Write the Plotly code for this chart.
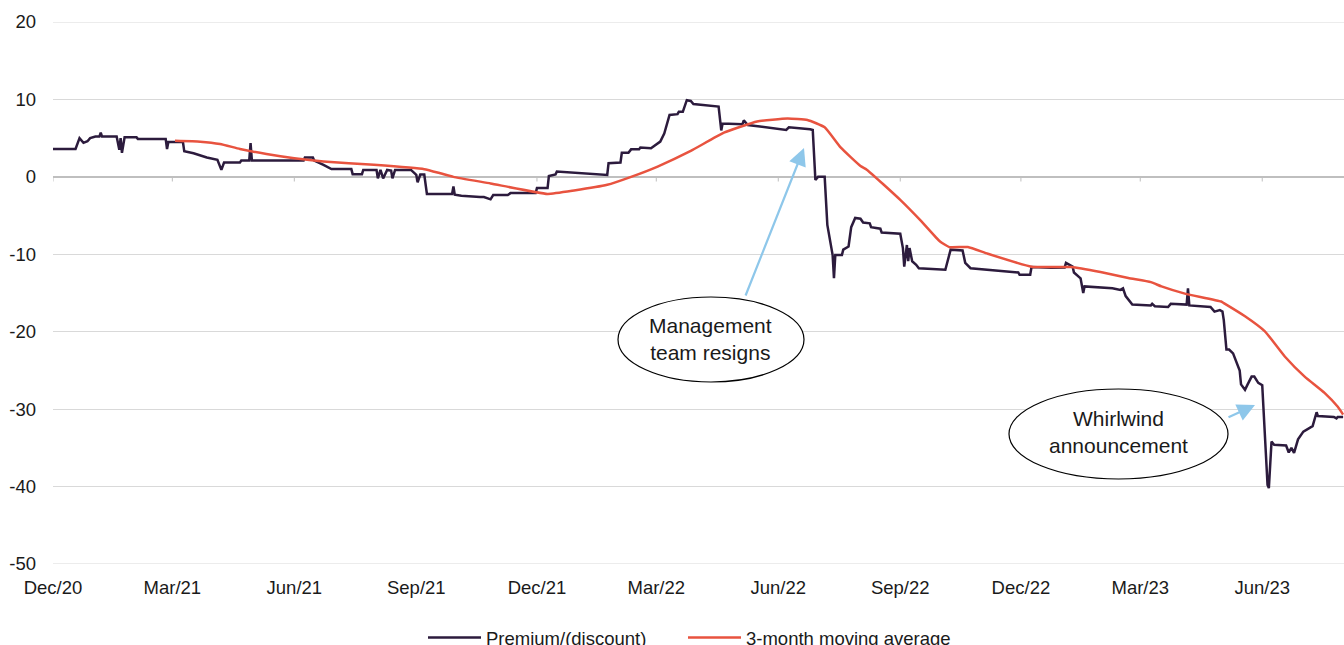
import plotly.graph_objects as go

# ---------------- data ----------------
prem_dates = [
    "2020-12-01", "2020-12-18", "2020-12-21", "2020-12-24", "2020-12-27", "2020-12-29",
    "2021-01-02", "2021-01-05", "2021-01-06", "2021-01-07", "2021-01-18", "2021-01-20",
    "2021-01-21", "2021-01-22", "2021-01-24", "2021-02-02", "2021-02-03", "2021-02-24",
    "2021-02-25", "2021-02-26", "2021-03-09", "2021-03-10", "2021-03-17", "2021-03-27",
    "2021-04-04", "2021-04-07", "2021-04-09", "2021-04-21", "2021-04-22", "2021-04-28",
    "2021-04-29", "2021-04-30", "2021-06-08", "2021-06-09", "2021-06-15", "2021-06-16",
    "2021-06-23", "2021-06-29", "2021-07-14", "2021-07-15", "2021-07-22", "2021-07-23",
    "2021-08-02", "2021-08-03", "2021-08-05", "2021-08-07", "2021-08-10", "2021-08-13",
    "2021-08-14", "2021-08-16", "2021-08-28", "2021-09-01", "2021-09-02", "2021-09-04",
    "2021-09-07", "2021-09-09", "2021-09-28", "2021-09-29", "2021-09-30", "2021-10-05",
    "2021-10-19", "2021-10-22", "2021-10-27", "2021-10-29", "2021-11-09", "2021-11-11",
    "2021-11-30", "2021-12-01", "2021-12-09", "2021-12-10", "2021-12-15", "2021-12-16",
    "2022-01-23", "2022-01-24", "2022-02-02", "2022-02-03", "2022-02-08", "2022-02-10",
    "2022-02-16", "2022-02-17", "2022-02-25", "2022-03-04", "2022-03-07", "2022-03-11",
    "2022-03-17", "2022-03-18", "2022-03-21", "2022-03-24", "2022-03-27", "2022-03-29",
    "2022-04-17", "2022-04-19", "2022-04-20", "2022-05-05", "2022-05-06", "2022-05-09",
    "2022-06-07", "2022-06-09", "2022-06-25", "2022-06-27", "2022-06-29", "2022-07-01",
    "2022-07-06", "2022-07-08", "2022-07-12", "2022-07-13", "2022-07-14", "2022-07-19",
    "2022-07-20", "2022-07-24", "2022-07-26", "2022-07-29", "2022-08-02", "2022-08-04",
    "2022-08-09", "2022-08-10", "2022-08-17", "2022-08-18", "2022-09-01", "2022-09-03",
    "2022-09-04", "2022-09-06", "2022-09-07", "2022-09-08", "2022-09-10", "2022-09-13",
    "2022-09-15", "2022-10-05", "2022-10-09", "2022-10-18", "2022-10-20", "2022-10-24",
    "2022-11-29", "2022-11-30", "2022-12-08", "2022-12-09", "2022-12-24", "2023-01-03",
    "2023-01-04", "2023-01-09", "2023-01-10", "2023-01-15", "2023-01-17", "2023-01-18",
    "2023-02-08", "2023-02-14", "2023-02-16", "2023-02-18", "2023-02-23", "2023-03-09",
    "2023-03-10", "2023-03-12", "2023-03-22", "2023-03-24", "2023-04-05", "2023-04-06",
    "2023-04-07", "2023-04-23", "2023-04-26", "2023-04-30", "2023-05-02", "2023-05-03",
    "2023-05-05", "2023-05-07", "2023-05-10", "2023-05-12", "2023-05-15", "2023-05-16",
    "2023-05-19", "2023-05-21", "2023-05-24", "2023-05-26", "2023-05-29", "2023-06-01",
    "2023-06-05", "2023-06-06", "2023-06-08", "2023-06-10", "2023-06-19", "2023-06-21",
    "2023-06-23", "2023-06-25", "2023-06-28", "2023-07-02", "2023-07-05", "2023-07-09",
    "2023-07-12", "2023-07-13", "2023-07-25", "2023-07-27", "2023-07-28", "2023-08-01",
]
prem_values = [
    3.6, 3.6, 5.0, 4.4, 4.6, 5.0,
    5.2, 5.2, 5.7, 5.2, 5.2, 3.5,
    5.0, 3.1, 5.1, 5.1, 4.9, 4.9,
    3.6, 4.5, 4.5, 3.3, 3.05, 2.5,
    2.2, 0.9, 1.85, 1.85, 2.1, 2.1,
    4.35, 2.1, 2.1, 2.5, 2.5, 2.1,
    1.55, 1.0, 1.0, 0.35, 0.35, 0.9,
    0.9, -0.2, 0.9, -0.2, 0.9, 0.8,
    -0.2, 0.9, 0.9, 0.25, -0.7, 0.3,
    0.3, -2.2, -2.2, -1.25, -2.3, -2.45,
    -2.6, -2.6, -2.9, -2.35, -2.35, -2.1,
    -2.1, -1.45, -1.45, 0.1, 0.3, 0.7,
    0.25, 1.77, 1.85, 3.1, 3.1, 3.55,
    3.55, 3.8, 3.7, 4.55, 5.6, 8.0,
    8.1, 8.4, 8.4, 9.9, 9.8, 9.4,
    9.07, 6.0, 6.9, 6.8, 7.3, 6.7,
    6.06, 6.4, 6.15, 6.05, -0.4, 0.0,
    0.0, -6.2, -10.1, -13.1, -10.1, -10.1,
    -9.4, -9.0, -6.5, -5.3, -5.4, -5.9,
    -6.0, -6.5, -6.7, -7.2, -7.35, -9.2,
    -11.6, -8.8, -10.9, -9.2, -10.9, -11.35,
    -11.8, -12.0, -9.4, -9.5, -11.1, -11.8,
    -12.35, -12.65, -12.65, -11.65, -11.75, -11.7,
    -11.1, -11.6, -12.35, -13.1, -15.0, -14.15,
    -14.4, -14.6, -14.4, -15.4, -16.5, -16.6,
    -16.4, -16.7, -16.8, -16.4, -16.5, -14.4,
    -16.6, -16.8, -17.4, -17.2, -17.4, -18.5,
    -22.3, -22.3, -22.8, -23.6, -25.0, -26.8,
    -27.5, -26.8, -25.8, -25.8, -26.6, -26.9,
    -39.8, -40.2, -34.2, -34.6, -34.7, -35.6,
    -35.0, -35.65, -33.9, -32.9, -32.6, -32.2,
    -30.4, -30.9, -31.0, -31.2, -31.0, -31.0,
]

ma_dates = [
    "2021-03-03", "2021-03-22", "2021-04-06", "2021-04-21", "2021-05-11", "2021-06-01",
    "2021-06-23", "2021-07-31", "2021-09-07", "2021-09-19", "2021-09-29", "2021-10-27",
    "2021-12-09", "2021-12-29", "2022-01-23", "2022-02-10", "2022-03-02", "2022-03-27",
    "2022-04-21", "2022-05-16", "2022-06-08", "2022-06-23", "2022-07-06", "2022-07-18",
    "2022-08-02", "2022-08-07", "2022-09-01", "2022-09-17", "2022-10-01", "2022-10-08",
    "2022-10-22", "2022-11-06", "2022-12-09", "2023-01-08", "2023-01-30", "2023-02-20",
    "2023-03-09", "2023-03-17", "2023-04-03", "2023-05-01", "2023-05-03", "2023-05-19",
    "2023-06-03", "2023-06-18", "2023-07-03", "2023-07-18", "2023-07-28", "2023-08-01",
]
ma_values = [
    4.65, 4.55, 4.25, 3.6, 2.95, 2.4,
    1.98, 1.55, 0.99, 0.47, 0.0, -0.85,
    -2.2, -1.76, -1.03, 0.0, 1.33, 3.35,
    5.7, 7.15, 7.55, 7.35, 6.4, 3.8,
    1.4, 0.9, -2.97, -5.75, -8.35, -9.07,
    -9.07, -9.93, -11.6, -11.65, -12.3, -13.07,
    -13.6, -14.15, -15.05, -16.1, -16.3, -18.0,
    -19.95, -23.2, -25.8, -27.9, -29.7, -30.7,
]

tick_dates = ["2020-12-01", "2021-03-01", "2021-06-01", "2021-09-01", "2021-12-01",
              "2022-03-01", "2022-06-01", "2022-09-01", "2022-12-01", "2023-03-01",
              "2023-06-01"]
tick_labels = ["Dec/20", "Mar/21", "Jun/21", "Sep/21", "Dec/21", "Mar/22",
               "Jun/22", "Sep/22", "Dec/22", "Mar/23", "Jun/23"]
y_ticks = [20, 10, 0, -10, -20, -30, -40, -50]
y_labels = ["20", "10", "0", "-10", "-20", "-30", "-40", "-50"]
y_range = [-50, 20]

series_names = ["Premium/(discount)", "3-month moving average"]
note_texts = ["Management<br>team resigns", "Whirlwind<br>announcement"]

assert len(prem_dates) == len(prem_values)
assert len(ma_dates) == len(ma_values)

# ---------------- layout helpers ----------------
W, H = 1344, 645
ML, MR, MT, MB = 53, 0, 22, 81
PW, PH = W - ML - MR, H - MT - MB


def px(x):
    return (x - ML) / PW


def py(y):
    return (MT + PH - y) / PH


FONT = "Liberation Sans, Arial, sans-serif"
TXT = "#1a1a1a"
DARK = "#2C1B3D"
RED = "#E8533F"
ARROW = "#8EC7EA"
GRID = "#D9D9D9"
FS = 18.5

fig = go.Figure()
fig.add_trace(go.Scatter(x=prem_dates, y=prem_values, mode="lines",
                         name=series_names[0], legend="legend",
                         line=dict(color=DARK, width=2.5)))
fig.add_trace(go.Scatter(x=ma_dates, y=ma_values, mode="lines",
                         name=series_names[1], legend="legend2",
                         line=dict(color=RED, width=2.5, shape="spline", smoothing=0.4)))

shapes = []
for d in tick_dates:
    shapes.append(dict(type="line", xref="x", yref="y", x0=d, x1=d, y0=0, y1=-0.6,
                       line=dict(color="#BFBFBF", width=1), layer="below"))
# gridlines at the two ends of the value range
for v in y_range:
    shapes.append(dict(type="line", xref="paper", yref="y", x0=0, x1=1, y0=v, y1=v,
                       line=dict(color=GRID, width=1), layer="below"))

# callout ellipses
shapes.append(dict(type="circle", xref="paper", yref="paper",
                   x0=px(618), x1=px(804), y0=py(382), y1=py(297),
                   line=dict(color="#000000", width=1.2), fillcolor="white", layer="above"))
shapes.append(dict(type="circle", xref="paper", yref="paper",
                   x0=px(1009), x1=px(1228), y0=py(479), y1=py(389),
                   line=dict(color="#000000", width=1.2), fillcolor="white", layer="above"))

annotations = [
    dict(xref="paper", yref="paper", x=px(711), y=py(339), text=note_texts[0],
         xanchor="center", yanchor="middle",
         showarrow=False, font=dict(family=FONT, size=21, color=TXT), align="center"),
    dict(xref="paper", yref="paper", x=px(1118), y=py(432), text=note_texts[1],
         xanchor="center", yanchor="middle",
         showarrow=False, font=dict(family=FONT, size=21, color=TXT), align="center"),
    dict(xref="paper", yref="paper", x=px(804), y=py(148), text="", showarrow=True,
         ax=-59, ay=149, arrowcolor=ARROW, arrowwidth=2.2, arrowhead=2, arrowsize=1.6,
         standoff=0),
    dict(xref="paper", yref="paper", x=px(1255), y=py(405), text="", showarrow=True,
         ax=-28, ay=13, arrowcolor=ARROW, arrowwidth=2.2, arrowhead=2, arrowsize=1.6,
         standoff=0),
]

legend_common = dict(orientation="h", yanchor="middle", xanchor="left",
                     font=dict(family=FONT, size=FS, color=TXT), itemwidth=53,
                     bgcolor="rgba(0,0,0,0)")

fig.update_layout(
    width=W, height=H,
    margin=dict(l=ML, r=MR, t=MT, b=MB, pad=0, autoexpand=False),
    paper_bgcolor="white", plot_bgcolor="white",
    font=dict(family=FONT, size=FS, color=TXT),
    showlegend=True,
    legend=dict(x=px(423), y=py(638), **legend_common),
    legend2=dict(x=px(683), y=py(638), **legend_common),
    shapes=shapes,
    annotations=annotations,
    xaxis=dict(type="date", range=["2020-12-01", "2023-08-01 16:00"],
               tickmode="array", tickvals=tick_dates, ticktext=tick_labels,
               showgrid=False, showline=False, zeroline=False, ticks="",
               tickfont=dict(family=FONT, size=FS, color=TXT),
               ticklabelstandoff=10, automargin=False),
    yaxis=dict(range=y_range, tickmode="array", tickvals=y_ticks, ticktext=y_labels,
               showgrid=True, gridcolor=GRID, gridwidth=1,
               zeroline=True, zerolinecolor="#BFBFBF", zerolinewidth=1.5,
               showline=False, ticks="",
               tickfont=dict(family=FONT, size=FS, color=TXT),
               ticklabelstandoff=16, automargin=False),
    hovermode=False,
)

fig.write_html("out.html", config={"displayModeBar": False},
               post_script="document.body.style.margin='0px';"
                           "document.body.style.padding='0px';"
                           "document.body.style.overflow='hidden';")
